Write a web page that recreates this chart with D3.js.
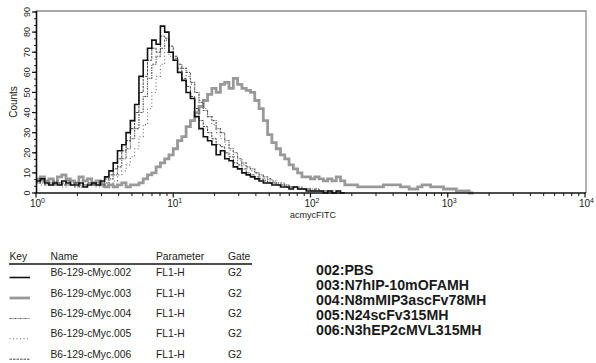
<!DOCTYPE html>
<html><head><meta charset="utf-8">
<script src="https://cdn.jsdelivr.net/npm/d3@7/dist/d3.min.js"></script>
<style>
html,body{margin:0;padding:0;background:#fff;}
svg{display:block;font-family:"Liberation Sans",Arial,sans-serif;}
</style></head>
<body>
<svg id="chart" width="596" height="363"></svg>
<script>
// ---- data (counts per bin, 32 bins per decade, starting at 10^0) ----
const seriesKeys = ["002","003","004","005","006"];
const s002 = [6,7,5,4,5,4,6,5,4,4,5,3,4,5,4, 6,8,11,15,21,24,30,36,44,58,66,72,76,74,83,80,70,66,60,56,50,47,38,32,28,26,24,19,21,17,16,13,12,10,9,8,7,6,5,5,4,4,3,3,2,3,2,2,1,1,1,1,0,1,0,1,0];
const s003 = [7,8,6,7,5,8,9,7,6,5,8,6,7,5,6, 4,3,4,3,4,5,3,4,4,5, 7,9,10,13,15,17,19,22,26,28,33,36,40,43,46,49,52,50,54,55,52,57,54,52,51,50,46,42,36,29,25,22,19,17,14,12,10,8,8,7,8,7,6,7,6,8,6,4,4,4,3,3,3,3,3,3,4,4,4,4,3,3,2,2,3,4,4,3,3,3,2,2,2,1,1,1,0];
const s004 = [6,5,5,4,6,4,5,4,5,3,4,4,5,4,4, 4,5,7,9,13,17,22,27,32,40,48,57,64,68,72,76,70,67,64,62,60,55,50,45,41,38,36,32,30,26,22,20,17,15,13,12,10,9,8,7,6,5,5,4,3,3,3,2,2,2,1,1,1,1,1,0];
const s005 = [5,4,6,5,4,5,3,4,4,5,4,3,4,4,3, 3,4,5,6,9,11,14,18,22,28,34,42,50,58,64,70,68,66,64,62,58,54,50,46,42,38,34,30,27,24,21,18,16,14,12,11,10,8,7,6,5,5,4,4,3,3,2,2,2,1,1,1,1,0];
const s006 = [5,6,4,5,4,5,4,6,4,5,3,4,5,4,5, 5,7,9,12,17,21,26,32,40,50,58,66,72,70,78,77,73,68,62,57,53,48,42,36,33,30,27,24,23,20,18,15,14,12,10,9,8,7,6,5,5,4,4,3,3,3,2,2,2,1,2,1,1,1,0,1,0];
const seriesData = [s002, s003, s004, s005, s006];

const yTicks = [0,10,20,30,40,50,60,70,80,90];
const xDecades = [0,1,2,3,4];
const xLabel = "acmycFITC";
const yLabel = "Counts";

const tableHeaders = ["Key","Name","Parameter","Gate"];
const tableNames = ["B6-129-cMyc.002","B6-129-cMyc.003","B6-129-cMyc.004","B6-129-cMyc.005","B6-129-cMyc.006"];
const tableParams = ["FL1-H","FL1-H","FL1-H","FL1-H","FL1-H"];
const tableGates = ["G2","G2","G2","G2","G2"];
const sampleNotes = ["002:PBS","003:N7hIP-10mOFAMH","004:N8mMIP3ascFv78MH","005:N24scFv315MH","006:N3hEP2cMVL315MH"];

// ---- styles ----
const styles = {
  "002": {stroke:"#111", width:1.6, dash:null},
  "003": {stroke:"#999", width:2.8, dash:null},
  "004": {stroke:"#555", width:1.1, dash:"2,1,1,1"},
  "005": {stroke:"#666", width:1.1, dash:"1,2.5"},
  "006": {stroke:"#444", width:1.0, dash:"2.5,1"}
};

const svg = d3.select("#chart");
const binsPerDecade = 32;
const x = d3.scaleLog().domain([1, 1e4]).range([36, 585]);
const y = d3.scaleLinear().domain([0, 90]).range([193, 12]);

// frame (gray top/right)
svg.append("path")
  .attr("d", `M${x(1)},${y(90)-1}H${x(1e4)+1}V${y(0)}`)
  .attr("fill","none").attr("stroke","#8a8a8a").attr("stroke-width",1.3);

// histograms
const plotOrder = [1,4,3,2,0];
const line = d3.line().x(d => d[0]).y(d => d[1]).curve(d3.curveStepAfter);
plotOrder.forEach(k => {
  const arr = seriesData[k];
  const pts = arr.map((v,i) => [x(Math.pow(10, i/binsPerDecade)), y(v)]);
  pts.push([x(Math.pow(10, arr.length/binsPerDecade)), y(arr[arr.length-1])]);
  const st = styles[seriesKeys[k]];
  svg.append("path").attr("d", line(pts))
    .attr("fill","none").attr("stroke", st.stroke)
    .attr("stroke-width", st.width)
    .attr("stroke-dasharray", st.dash)
    .attr("stroke-linejoin","miter");
});

// x axis
const xMinor = [];
for (let d = 0; d < 4; d++) for (let m = 2; m <= 9; m++) xMinor.push(m * Math.pow(10, d));
const gx = svg.append("g").attr("transform", `translate(0,${y(0)})`);
gx.append("line").attr("x1", x(1)).attr("x2", x(1e4)+1).attr("stroke","#111").attr("stroke-width",1.3);
gx.selectAll(".mn").data(xMinor).enter().append("line")
  .attr("x1", d=>x(d)).attr("x2", d=>x(d)).attr("y1",0).attr("y2",3)
  .attr("stroke","#111").attr("stroke-width",1);
gx.selectAll(".mj").data(xDecades).enter().append("line")
  .attr("x1", d=>x(Math.pow(10,d))).attr("x2", d=>x(Math.pow(10,d))).attr("y1",0).attr("y2",4.5)
  .attr("stroke","#111").attr("stroke-width",1.2);
const xl = gx.selectAll(".lab").data(xDecades).enter().append("text")
  .attr("x", d=>x(Math.pow(10,d))+1.5).attr("y", 14)
  .attr("text-anchor","middle").attr("font-size", 10).attr("fill","#222");
xl.append("tspan").text("10");
xl.append("tspan").attr("dy",-4.5).attr("font-size",7).text(d=>d);
svg.append("text").attr("x", 313).attr("y", 218).attr("text-anchor","middle")
  .attr("font-size", 9).attr("fill","#222").text(xLabel);

// y axis
const yMinor = d3.range(0, 90.01, 10/3);
const gy = svg.append("g").attr("transform", `translate(${x(1)+0.5},0)`);
gy.append("line").attr("y1", y(90)-1).attr("y2", y(0)).attr("stroke","#111").attr("stroke-width",1.6);
gy.selectAll(".mn").data(yMinor).enter().append("line")
  .attr("y1", d=>y(d)).attr("y2", d=>y(d)).attr("x1",0).attr("x2",-2.5)
  .attr("stroke","#111").attr("stroke-width",0.9);
gy.selectAll(".mj").data(yTicks).enter().append("line")
  .attr("y1", d=>y(d)).attr("y2", d=>y(d)).attr("x1",0).attr("x2",-4.5)
  .attr("stroke","#111").attr("stroke-width",1.2);
svg.selectAll(".ylab").data(yTicks).enter().append("text")
  .attr("transform", d=>`translate(29.5,${y(d)}) rotate(-90)`)
  .attr("text-anchor","middle").attr("font-size", 9).attr("fill","#222").text(d=>d);
svg.append("text").attr("transform","translate(17,102) rotate(-90)")
  .attr("text-anchor","middle").attr("font-size",10).attr("fill","#222").text(yLabel);

// key table
const colX = [9.5, 50.5, 156, 228];
const tbl = svg.append("g").attr("font-size", 10.3).attr("fill","#222");
tbl.selectAll(".hd").data(tableHeaders).enter().append("text")
  .attr("x",(d,i)=>colX[i]).attr("y",260).text(d=>d);
tbl.append("line").attr("x1",9).attr("x2",252).attr("y1",264).attr("y2",264)
  .attr("stroke","#111").attr("stroke-width",1.3);
const rowY = [276, 296.5, 317, 337.3, 357.7];
tableNames.forEach((nm,i) => {
  tbl.append("text").attr("x",colX[1]).attr("y",rowY[i]).text(nm);
  tbl.append("text").attr("x",colX[2]).attr("y",rowY[i]).text(tableParams[i]);
  tbl.append("text").attr("x",colX[3]).attr("y",rowY[i]).text(tableGates[i]);
  const st = styles[seriesKeys[i]];
  tbl.append("line").attr("x1",9.5).attr("x2",30).attr("y1",rowY[i]+1.5).attr("y2",rowY[i]+1.5)
    .attr("stroke",st.stroke).attr("stroke-width",st.width).attr("stroke-dasharray",st.dash);
});

// sample notes
svg.append("g").selectAll("text").data(sampleNotes).enter().append("text")
  .attr("x",316).attr("y",(d,i)=>275 + i*15.1)
  .attr("font-size",14.2).attr("font-weight","bold").attr("fill","#1a1a1a").text(d=>d);
</script>
</body></html>
